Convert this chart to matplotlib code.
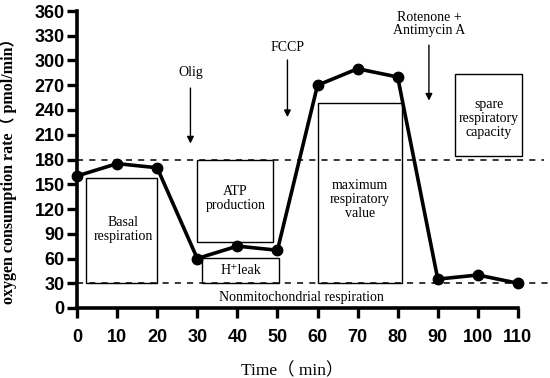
import numpy as np
import matplotlib.pyplot as plt
from matplotlib.patches import Rectangle

# measured oxygen consumption
time = [0, 10, 20, 30, 40, 50, 60, 70, 80, 90, 100, 110]
ocr = [160, 175, 170, 60, 75, 70, 270, 290, 280, 35, 40, 30]

# annotation boxes: (x0, x1, y0, y1, label, label_x, label_y)
box_x0 = [2.2, 30, 31.3, 60, 94.3]
box_x1 = [20, 49, 50.5, 81, 111]
box_y0 = [30, 80, 30, 30, 184]
box_y1 = [158, 180, 61, 248, 284]
box_text = ["Basal\nrespiration", "ATP\nproduction", "H\u207aleak",
            "maximum\nrespiratory\nvalue", "spare\nrespiratory\ncapacity"]
box_tx = [11.5, 39.5, 40.8, 70.5, 102.7]
box_ty = [95, 133, 46, 131, 230]

# injections: label, x, arrow start, arrow tip, text y
inj_text = ["Olig", "FCCP", "Rotenone +\nAntimycin A"]
inj_x = [28.3, 52.5, 87.8]
inj_y0 = [270, 304, 322]
inj_y1 = [196, 228, 248]
inj_ty = [285, 316, 344]

serif = ['Liberation Serif', 'DejaVu Serif']
serif_cjk = ['Liberation Serif', 'Noto Sans CJK SC', 'DejaVu Serif']

fig = plt.figure(figsize=(5.5, 3.78), dpi=100)
ax = fig.add_axes([77/550, 70/378, 473/550, 297/378])

ax.set_xlim(0, 118)
ax.set_ylim(0, 360)

# dashed reference levels
ax.plot([0, 116.5], [180, 180], ls=(0, (4, 4)), color='black', lw=1.1)
ax.plot([0, 117.5], [30, 30], ls=(0, (4, 4)), color='black', lw=1.1)

for i in range(len(box_x0)):
    ax.add_patch(Rectangle((box_x0[i], box_y0[i]), box_x1[i] - box_x0[i],
                           box_y1[i] - box_y0[i], fill=False, ec='black',
                           lw=1.0, clip_on=False))
    ax.text(box_tx[i], box_ty[i], box_text[i], ha='center', va='center',
            fontsize=10, family=serif, linespacing=1.1)

ax.text(56, 13, "Nonmitochondrial respiration", ha='center', va='center',
        fontsize=10, family=serif)

ax.plot(time, ocr, color='black', lw=2.6, marker='o', ms=7.5, clip_on=False,
        zorder=5)

for i in range(len(inj_text)):
    ax.annotate("", xy=(inj_x[i], inj_y1[i]), xytext=(inj_x[i], inj_y0[i]),
                arrowprops=dict(arrowstyle='-|>', color='black', lw=1.0,
                                mutation_scale=10))
    ax.text(inj_x[i], inj_ty[i], inj_text[i], ha='center', va='center',
            fontsize=10, family=serif, linespacing=1.05, clip_on=False)

for s in ['top', 'right']:
    ax.spines[s].set_visible(False)
ax.spines['left'].set_linewidth(2.6)
ax.spines['bottom'].set_linewidth(2.6)
ax.spines['bottom'].set_bounds(0, 110)

ax.set_xticks(np.arange(0, 111, 10))
ax.set_yticks(np.arange(0, 361, 30))
ax.tick_params(axis='both', direction='out', length=7, width=2.4)
ax.tick_params(axis='x', pad=8)
ax.tick_params(axis='y', pad=2)
for lab in ax.get_xticklabels() + ax.get_yticklabels():
    lab.set_family(['Liberation Sans', 'DejaVu Sans'])
    lab.set_fontweight('bold')
    lab.set_fontsize(13)

ax.set_ylabel("oxygen consumption rate\uff08 pmol/min\uff09", family=serif_cjk,
              fontsize=11.5, fontweight='bold')
ax.yaxis.set_label_coords(-0.127, 0.475)
ax.set_xlabel("Time\uff08 min\uff09", family=serif_cjk, fontsize=12.5)
ax.xaxis.set_label_coords(0.455, -0.185)

fig.savefig('out.png', dpi=100)
